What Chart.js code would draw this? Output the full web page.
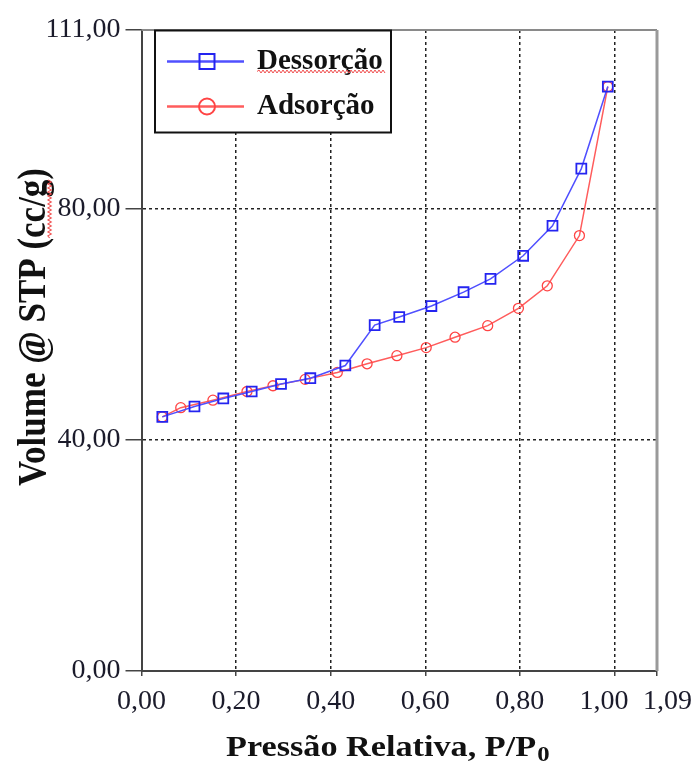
<!DOCTYPE html>
<html>
<head>
<meta charset="utf-8">
<script src="https://cdn.jsdelivr.net/npm/chart.js@4.4.0/dist/chart.umd.min.js"></script>
<style>
  html, body { margin: 0; padding: 0; background: #fff; }
  #wrap { width: 697px; height: 762px; }
</style>
</head>
<body>
<div id="wrap"><canvas id="isoterma" width="697" height="762"></canvas></div>
<script>
// Valores: pressão relativa (P/P0) e volume (cc/g)
const pressaoDessorcao = [0.044, 0.112, 0.173, 0.233, 0.295, 0.357, 0.431, 0.493, 0.545, 0.613, 0.681, 0.738, 0.807, 0.869, 0.930, 0.986];
const volumeDessorcao  = [44.0, 45.8, 47.2, 48.4, 49.7, 50.7, 52.9, 59.9, 61.3, 63.2, 65.6, 67.9, 71.9, 77.1, 87.0, 101.2];
const pressaoAdsorcao  = [0.044, 0.083, 0.151, 0.223, 0.278, 0.346, 0.414, 0.477, 0.540, 0.602, 0.663, 0.732, 0.797, 0.858, 0.926, 0.986];
const volumeAdsorcao   = [44.0, 45.6, 46.9, 48.4, 49.4, 50.5, 51.7, 53.2, 54.6, 56.0, 57.8, 59.8, 62.8, 66.7, 75.4, 101.2];
const ticksX = [0, 0.2, 0.4, 0.6, 0.8, 1.0, 1.09];
const ticksY = [0, 40, 80, 111];

const SERIF = '"Liberation Serif", "Times New Roman", serif';
const AZUL = '#5050ff';
const AZUL_PONTO = '#2424f0';
const VERMELHO = '#ff5c5c';
const VERMELHO_PONTO = '#ff4444';

function pares(xs, ys) {
    return xs.map((x, i) => ({ x: x, y: ys[i] }));
}

function virgula(v) {
    return Number(v).toFixed(2).replace('.', ',');
}

// os dois últimos rótulos do eixo X ficam afastados um do outro, como no original
function rotuloX(v) {
    const txt = virgula(v);
    if (Math.abs(v - 1.0) < 1e-9) return txt + '   ';
    if (Math.abs(v - 1.09) < 1e-9) return '   ' + txt;
    return txt;
}

// linha ondulada vermelha (sublinhado do corretor ortográfico)
function ondulada(ctx, x0, x1, y) {
    ctx.save();
    ctx.strokeStyle = '#f05050';
    ctx.lineWidth = 1;
    ctx.beginPath();
    let sobe = true;
    ctx.moveTo(x0, y);
    for (let x = x0 + 2; x <= x1; x += 2) {
        ctx.lineTo(x, y + (sobe ? -1.5 : 1.5));
        sobe = !sobe;
    }
    ctx.stroke();
    ctx.restore();
}

const molduraPlugin = {
    id: 'moldura',
    afterDraw(chart) {
        const ctx = chart.ctx;
        const a = chart.chartArea;

        // bordas superior e direita
        ctx.save();
        ctx.strokeStyle = '#8a8a8a';
        ctx.lineWidth = 2;
        ctx.beginPath();
        ctx.moveTo(a.left, a.top);
        ctx.lineTo(a.right, a.top);
        ctx.stroke();
        ctx.strokeStyle = '#9a9a9a';
        ctx.lineWidth = 3;
        ctx.beginPath();
        ctx.moveTo(a.right, a.top);
        ctx.lineTo(a.right, a.bottom);
        ctx.stroke();
        ctx.restore();

        // título do eixo X com subscrito
        ctx.save();
        const cx = (a.left + a.right) / 2 - 12;
        ctx.translate(cx, 756);
        ctx.scale(1.18, 1);
        ctx.fillStyle = '#111';
        ctx.textBaseline = 'alphabetic';
        ctx.font = 'bold 29px ' + SERIF;
        const principal = 'Pressão Relativa, P/P';
        const wp = ctx.measureText(principal).width;
        ctx.font = 'bold 21px ' + SERIF;
        const ws = ctx.measureText('0').width;
        const x0 = -(wp + ws) / 2;
        ctx.font = 'bold 29px ' + SERIF;
        ctx.textAlign = 'left';
        ctx.fillText(principal, x0, 0);
        ctx.font = 'bold 21px ' + SERIF;
        ctx.fillText('0', x0 + wp + 1, 5);
        ctx.restore();

        // título do eixo Y
        ctx.save();
        ctx.translate(45, 327);
        ctx.rotate(-Math.PI / 2);
        ctx.scale(1, 1.15);
        ctx.fillStyle = '#111';
        ctx.font = 'bold 35px ' + SERIF;
        ctx.textAlign = 'left';
        ctx.textBaseline = 'alphabetic';
        const tituloY = 'Volume @ STP (cc/g)';
        const wy = ctx.measureText(tituloY).width;
        ctx.fillText(tituloY, -wy / 2, 0);
        const antes = ctx.measureText('Volume @ STP (').width;
        const cc = ctx.measureText('cc/g').width;
        ondulada(ctx, -wy / 2 + antes, -wy / 2 + antes + cc, 4);
        ctx.restore();

        // legenda
        const lx = a.left + 13.5;
        const ly = a.top + 0.5;
        ctx.save();
        ctx.fillStyle = '#fff';
        ctx.fillRect(lx, ly, 236, 102);
        ctx.strokeStyle = '#111';
        ctx.lineWidth = 2;
        ctx.strokeRect(lx, ly, 236, 102);

        const itens = [
            { texto: 'Dessorção', linha: AZUL, ponto: AZUL_PONTO, forma: 'quadrado', y: ly + 31 },
            { texto: 'Adsorção', linha: VERMELHO, ponto: VERMELHO_PONTO, forma: 'circulo', y: ly + 76 }
        ];
        itens.forEach(item => {
            ctx.strokeStyle = item.linha;
            ctx.lineWidth = 2.5;
            ctx.beginPath();
            ctx.moveTo(lx + 12, item.y);
            ctx.lineTo(lx + 89, item.y);
            ctx.stroke();
            ctx.strokeStyle = item.ponto;
            ctx.lineWidth = 2;
            ctx.beginPath();
            if (item.forma === 'quadrado') {
                ctx.rect(lx + 52 - 7.5, item.y - 7.5, 15, 15);
            } else {
                ctx.arc(lx + 52, item.y, 8, 0, Math.PI * 2);
            }
            ctx.stroke();
            ctx.fillStyle = '#111';
            ctx.font = 'bold 29px ' + SERIF;
            ctx.textAlign = 'left';
            ctx.textBaseline = 'alphabetic';
            ctx.fillText(item.texto, lx + 102, item.y + 7);
        });
        const wd = ctx.measureText('Dessorção').width;
        ondulada(ctx, lx + 102, lx + 102 + wd + 3, ly + 41);
        ctx.restore();
    }
};

const ctxIsoterma = document.getElementById('isoterma').getContext('2d');
new Chart(ctxIsoterma, {
    type: 'scatter',
    data: {
        datasets: [{
            label: 'Dessorção',
            data: pares(pressaoDessorcao, volumeDessorcao),
            showLine: true,
            borderColor: AZUL,
            borderWidth: 1.5,
            pointStyle: 'rect',
            pointRadius: 7,
            pointBorderWidth: 1.8,
            pointBorderColor: AZUL_PONTO,
            pointBackgroundColor: 'rgba(0,0,0,0)',
            tension: 0
        }, {
            label: 'Adsorção',
            data: pares(pressaoAdsorcao, volumeAdsorcao),
            showLine: true,
            borderColor: VERMELHO,
            borderWidth: 1.5,
            pointStyle: 'circle',
            pointRadius: 5,
            pointBorderWidth: 1.3,
            pointBorderColor: VERMELHO_PONTO,
            pointBackgroundColor: 'rgba(0,0,0,0)',
            tension: 0
        }]
    },
    options: {
        responsive: false,
        animation: false,
        layout: { padding: { top: 30, right: 40, left: 0, bottom: 0 } },
        plugins: {
            legend: { display: false },
            tooltip: { enabled: false }
        },
        scales: {
            x: {
                type: 'linear',
                min: 0,
                max: 1.09,
                afterBuildTicks: s => { s.ticks = ticksX.map(v => ({ value: v })); },
                afterFit: s => {
                    s.height = 91;
                    s.paddingLeft = 0;
                    s.paddingRight = 0;
                },
                ticks: {
                    autoSkip: false,
                    maxRotation: 0,
                    padding: 9,
                    color: '#1b1b2b',
                    font: { family: SERIF, size: 28 },
                    callback: v => rotuloX(v)
                },
                grid: {
                    color: c => (c.tick && c.tick.value > 0 && c.tick.value < 1.09) ? '#222' : 'rgba(0,0,0,0)',
                    lineWidth: 1.5,
                    tickColor: '#444',
                    tickLength: 5
                },
                border: { color: '#444', width: 2, dash: [3, 3] }
            },
            y: {
                type: 'linear',
                min: 0,
                max: 111,
                afterBuildTicks: s => { s.ticks = ticksY.map(v => ({ value: v })); },
                afterFit: s => { s.width = 141.5; },
                ticks: {
                    autoSkip: false,
                    padding: 5,
                    color: '#1b1b2b',
                    font: { family: SERIF, size: 28 },
                    callback: v => virgula(v)
                },
                grid: {
                    color: c => (c.tick && c.tick.value > 0 && c.tick.value < 111) ? '#222' : 'rgba(0,0,0,0)',
                    lineWidth: 1.5,
                    tickColor: '#444',
                    tickLength: 16
                },
                border: { color: '#444', width: 2, dash: [3, 3] }
            }
        }
    },
    plugins: [molduraPlugin]
});
</script>
</body>
</html>
